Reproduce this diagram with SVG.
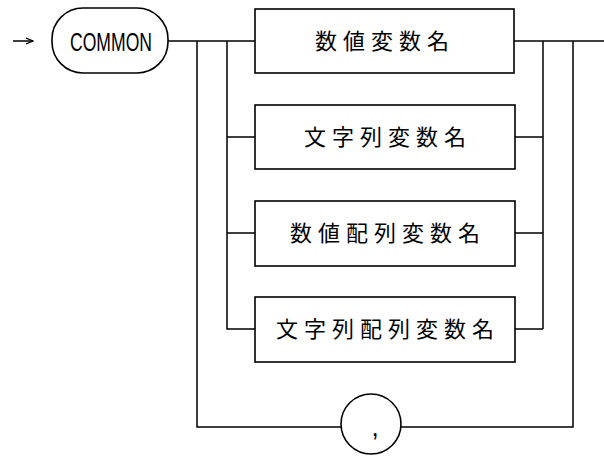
<svg xmlns="http://www.w3.org/2000/svg" width="604" height="457" viewBox="0 0 604 457">
<style>
.b{fill:#fff;stroke:#000;stroke-width:1.6}
.l{fill:none;stroke:#000;stroke-width:1.5}
.j{font-family:"Noto Sans CJK JP","Noto Sans CJK SC",sans-serif;font-size:22px;letter-spacing:6px;fill:#000}
.c{font-family:"Liberation Sans","DejaVu Sans",sans-serif;font-size:26px;fill:#000}
</style>
<defs>
<marker id="ah" markerWidth="8" markerHeight="8" refX="7" refY="4" orient="auto" markerUnits="userSpaceOnUse">
<path d="M0,1 L7,4 L0,7" fill="none" stroke="#000" stroke-width="1.2"/>
</marker>
</defs>
<rect width="604" height="457" fill="#fff"/>
<g id="connectors">
<line class="l" x1="13" y1="41" x2="33" y2="41" marker-end="url(#ah)"/>
<path class="l" d="M168,41 H255"/>
<path class="l" d="M227,41 V329 H255"/>
<path class="l" d="M227,137 H255 M227,233 H255"/>
<path class="l" d="M197,41 V427 H341"/>
<path class="l" d="M514,41 H604"/>
<path class="l" d="M514,137 H543 M514,233 H543 M514,329 H543"/>
<path class="l" d="M543,41 V329"/>
<path class="l" d="M573,41 V427 H401"/>
</g>
<g id="common">
<rect class="b" x="52" y="8" width="116" height="65" rx="31"/>
<text class="c" x="111" y="51" text-anchor="middle" textLength="82" lengthAdjust="spacingAndGlyphs">COMMON</text>
</g>
<g id="n1">
<rect class="b" x="255" y="9" width="259" height="64"/>
<text class="j" x="385" y="49" text-anchor="middle">数値変数名</text>
</g>
<g id="n2">
<rect class="b" x="255" y="105" width="260" height="64"/>
<text class="j" x="388" y="145" text-anchor="middle">文字列変数名</text>
</g>
<g id="n3">
<rect class="b" x="255" y="201" width="260" height="65"/>
<text class="j" x="388" y="241" text-anchor="middle">数値配列変数名</text>
</g>
<g id="n4">
<rect class="b" x="255" y="297" width="260" height="65"/>
<text class="j" x="388" y="337" text-anchor="middle">文字列配列変数名</text>
</g>
<g id="comma">
<circle class="b" cx="371" cy="424" r="30"/>
<text class="c" x="375" y="436" text-anchor="middle" font-size="22">,</text>
</g>
</svg>
